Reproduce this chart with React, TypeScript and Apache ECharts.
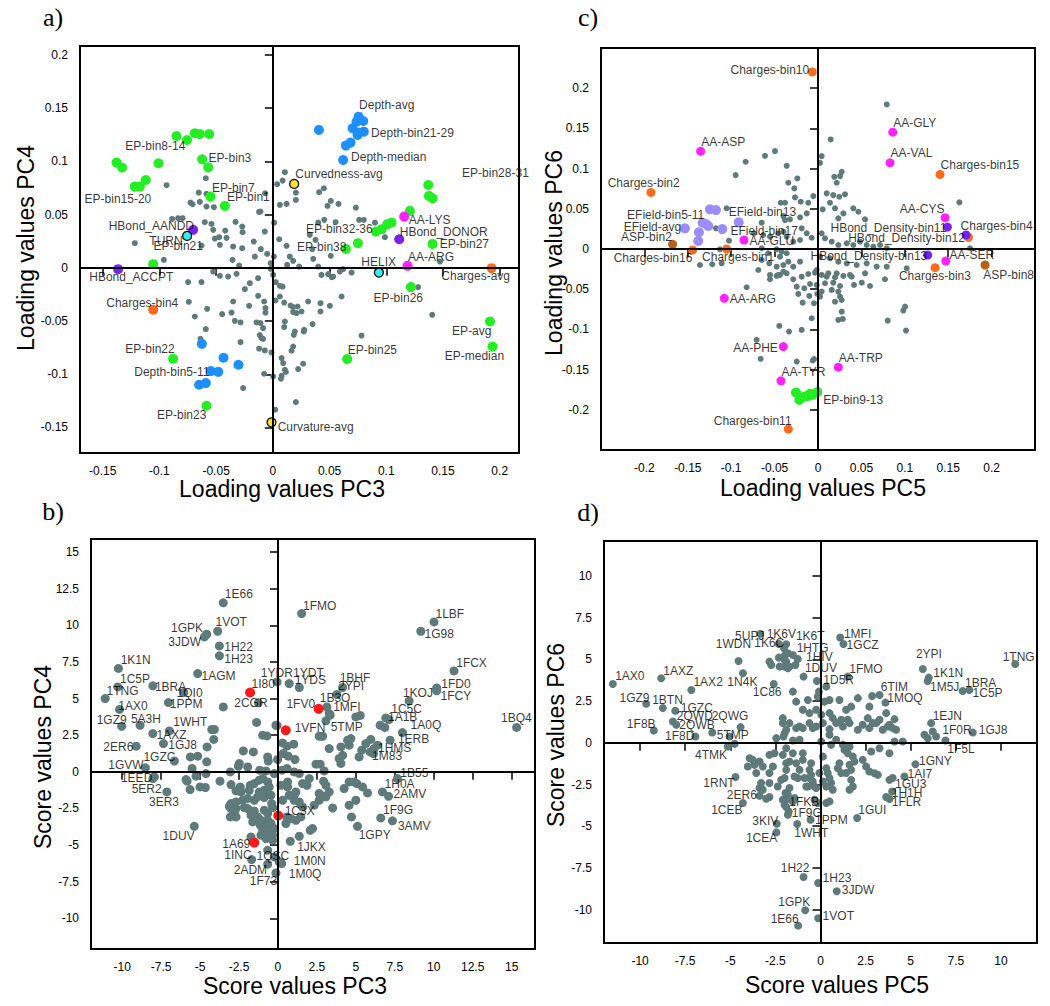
import React, { useEffect, useRef } from 'react';
import * as echarts from 'echarts';

// ---------- Panel a (Loading PC3 vs PC4) ----------
const aGrey: number[][] = [
[-0.0937,0.0777],[-0.0591,0.0842],[-0.0653,0.0707],[-0.0585,0.0695],[-0.0726,0.0613],[-0.0708,0.0598],[-0.0644,0.062],[-0.0585,0.0576],[-0.052,0.057],[-0.0121,0.0526],[-0.0888,0.046],[-0.0835,0.0467],[-0.0796,0.0467],[-0.06,0.0429],[-0.0541,0.0413],[-0.0526,0.0357],[-0.042,0.035],[-0.0329,0.0432],[-0.027,0.0388],[-0.0267,0.0335],[-0.0473,0.0288],[-0.0511,0.0275],[-0.0408,0.0282],[-0.035,0.02],[-0.027,0.0185],[-0.0467,0.0216],[-0.0168,0.0247],[-0.1217,0.0232],[-0.0961,0.0075],[-0.0629,0.0209],[-0.0355,0.0075],[-0.0297,0.0022],[-0.0159,0.0106],[-0.0526,-0.0035],[-0.0467,-0.0075],[-0.0394,-0.0082],[-0.032,-0.0056],
[0.0106,0.0899],[0.0038,0.0786],[0.0086,0.082],[0.0203,0.0707],[0.0203,0.0638],[0.0408,0.0711],[0.045,0.0748],[0.0511,0.0629],[0.0579,0.0601],[0.0482,0.0582],[-0.0068,0.0701],[-0.0109,0.0529],[0.0012,0.0425],[0.0062,0.0592],[0.0121,0.0601],[0.0732,0.0566],[0.04,0.0425],[0.0453,0.0451],[0.0553,0.0429],[0.0761,0.0451],[0.0802,0.0451],[0.09,0.0425],[0.0988,0.0288],[-0.0071,0.0341],[0.0056,0.0269],[0.0121,0.0207],[0.0326,0.031],[0.0376,0.0263],[-0.0106,0.0176],[-0.005,0.0131],[0.0009,0.0106],[0.015,0.0106],[0.0179,0.0066],[0.0347,0.0176],[0.0356,0.0085],[0.0511,0.0113],[-0.0018,0.0044],[-0.002,-0.0009],[0.0003,-0.0066],[0.0126,0.0028],[0.0232,0.0012],[0.04,0.0012],[0.062,-0.0012],[0.1473,0.0059],[0.0488,-0.0059],[0.0518,-0.0087],
[-0.0747,-0.0134],[-0.0629,-0.0134],[-0.0741,-0.0319],[-0.0579,-0.0385],[-0.0688,-0.0457],[-0.0447,-0.0435],[-0.0364,-0.042],[-0.035,-0.0316],[-0.0247,-0.02],[-0.0203,-0.0144],[-0.013,-0.0097],[-0.0209,-0.0357],[-0.013,-0.0263],[-0.0077,-0.0316],[-0.0065,-0.0378],[-0.0065,-0.042],[-0.0335,-0.0498],[-0.0285,-0.0513],[-0.0144,-0.0513],[-0.0109,-0.0519],[-0.0086,-0.0566],[-0.0591,-0.0576],[-0.0638,-0.0667],[-0.0285,-0.0698],[-0.0115,-0.0632],[-0.01,-0.066],[-0.0086,-0.0667],[-0.0121,-0.076],[-0.0071,-0.0776],[-0.0012,-0.0795],[-0.0077,-0.0995],[-0.0262,-0.113],[0.0003,-0.102],[0.002,-0.1333],[0.0026,-0.0134],[0.0062,-0.0169],[0.0086,-0.0176],[0.0062,-0.0269],[0.01,-0.0326],[0.0156,-0.0354],[0.0179,-0.0369],[0.0218,-0.0363],[0.0253,-0.041],[0.0024,-0.0307],[0.0106,-0.0504],[0.01,-0.0557],[0.0179,-0.0416],[0.0209,-0.0425],[0.0179,-0.0739],[0.0165,-0.0779],[0.0077,-0.0848],[0.0091,-0.0895],[0.0106,-0.0958],[0.0115,-0.0979],[0.0077,-0.1014],[0.0071,-0.1042],[0.0223,-0.0951],[0.0267,-0.0901],[0.0194,-0.0598],[0.0185,-0.0629],[0.0273,-0.0598],[0.0276,-0.0582],[0.035,-0.0529],[0.0311,-0.0316],[0.042,-0.0332],[0.042,-0.041],[0.0503,-0.0357],[0.0532,-0.0082],[0.0591,-0.0035],[0.0694,-0.0044],[0.0429,-0.0066],[0.0606,-0.0269],[0.0782,-0.0636],[0.1281,-0.0181],[0.1405,-0.0441],[0.0203,-0.1261]
];
const aGreen: number[][] = [[-0.1378,0.0989],[-0.1329,0.0942],[-0.1217,0.0764],[-0.1173,0.0764],[-0.112,0.0826],[-0.1008,0.0983],[-0.0849,0.1239],[-0.0756,0.1202],[-0.0688,0.1265],[-0.0644,0.1258],[-0.0561,0.1258],[-0.0623,0.102],[-0.057,0.0945],[-0.055,0.067],[-0.0423,0.0582],[-0.1055,0.0035],[0.137,0.0779],[0.1376,0.0676],[0.1408,0.0654],[0.1208,0.0535],[0.1046,0.0425],[0.1008,0.041],[0.0958,0.0363],[0.0908,0.0341],[0.1408,0.0225],[0.0644,0.0178],[0.075,0.0232],[0.1217,-0.0181],[0.1914,-0.0504],[0.1937,-0.0739],[0.0655,-0.0857],[-0.0879,-0.0854],[-0.0585,-0.1296]];
const aBlue: number[][] = [[0.0406,0.1296],[0.0756,0.1421],[0.0797,0.138],[0.0738,0.1374],[0.0703,0.1312],[0.0758,0.1271],[0.0802,0.128],[0.0747,0.1249],[0.0685,0.1177],[0.0644,0.1149],[0.062,0.1014],[-0.0626,-0.0714],[-0.0435,-0.0845],[-0.0303,-0.0911],[-0.0547,-0.097],[-0.0482,-0.0977],[-0.065,-0.1099],[-0.0591,-0.1083]];
const aPurple: number[][] = [[-0.0703,0.0357],[-0.1364,-0.0012],[0.1114,0.0269]];
const aCyan: number[][] = [[-0.0756,0.03],[0.0935,-0.0044]];
const aMagenta: number[][] = [[0.1158,0.0482],[0.1188,0.0019]];
const aOrange: number[][] = [[0.1928,-0.0003],[-0.1055,-0.0394]];
const aYellow: number[][] = [[0.0188,0.0789],[-0.0012,-0.1452]];
const aLabels: [number, number, string][] = [
[-0.1305,0.1148,'EP-bin8-14'],[-0.0571,0.103,'EP-bin3'],[-0.1664,0.0648,'EP-bin15-20'],[-0.0541,0.0754,'EP-bin7'],[-0.0408,0.0669,'EP-bin1'],[-0.1452,0.0397,'HBond_AANDD'],[-0.1093,0.0256,'TURN'],[-0.1056,0.0209,'EP-bin21'],[-0.1623,-0.0089,'HBond_ACCPT'],[0.0756,0.1528,'Depth-avg'],[0.0862,0.127,'Depth-bin21-29'],[0.0685,0.1039,'Depth-median'],[0.0194,0.088,'Curvedness-avg'],[0.1664,0.0889,'EP-bin28-31'],[0.1193,0.0451,'AA-LYS'],[0.0288,0.0363,'EP-bin32-36'],[0.1114,0.0335,'HBond_DONOR'],[0.1466,0.0225,'EP-bin27'],[0.0209,0.0194,'EP-bin38'],[0.1188,0.0106,'AA-ARG'],[0.0776,0.0056,'HELIX'],[0.1481,-0.0075,'Charges-avg'],[-0.1473,-0.0326,'Charges-bin4'],[0.0884,-0.0285,'EP-bin26'],[0.1576,-0.0598,'EP-avg'],[-0.1305,-0.0763,'EP-bin22'],[0.0655,-0.077,'EP-bin25'],[0.1511,-0.0826,'EP-median'],[-0.1226,-0.0977,'Depth-bin5-11'],[-0.1026,-0.1387,'EP-bin23'],[0.0038,-0.15,'Curvature-avg']
];
const aTicks = [-0.15,-0.1,-0.05,0,0.05,0.1,0.15,0.2];

// ---------- Panel b (Score PC3 vs PC4) ----------
const bGrey: number[][] = [
[-3.51,11.54],[-3.87,9.6],[-4.57,9.4],[-4.72,9.21],[-3.76,8.6],[-3.76,7.92],[-10.24,7.06],[-5.15,6.71],[-0.06,6.14],[-10.28,5.8],[-8.03,5.87],[-11.09,5.0],[-6.04,5.42],[-10.17,4.26],[-7.03,4.73],[-3.51,4.43],[-1.26,4.71],[-10.03,3.11],[-8.85,3.18],[-4.08,2.89],[-1.37,3.37],[-0.13,3.18],[-0.71,2.45],[-8.03,2.61],[-6.97,2.79],[-7.35,1.93],[-9.1,1.75],[-6.65,0.74],[-8.51,0.27],[-7.93,-0.35],[-8.03,-0.46],[-7.13,-1.37],[-5.37,-3.72],[-1.69,-5.99],[-0.24,-5.81],[0.24,-6.26],[-0.66,-6.31],[-0.13,-6.91],[0.79,-4.74],[1.37,-4.4],[5.11,-3.72],[6.6,-3.15],[7.35,-3.35],[7.1,-1.67],[6.71,-1.37],[7.67,-0.46],[7.2,2.16],[7.99,2.68],[5.64,1.93],[5.92,1.36],[6.39,1.82],[6.17,1.59],[6.56,3.18],[6.86,3.03],[15.32,3.03],
[1.52,10.81],[10.02,10.24],[9.17,9.6],[11.3,6.89],[10.19,5.73],[10.19,5.53],[8.42,4.84],[6.92,3.68],[7.13,3.57],[0.72,6.03],[1.37,5.76],[3.78,5.28],[4.15,5.76],[3.14,4.43],[3.29,3.98],[3.35,3.87],[5.0,3.75],[5.28,3.85],[3.08,3.48],[2.87,2.43],[-0.06,3.16],[4.68,2.27],[5.96,2.21],
[-4.25,2.89],[-4.12,2.21],[-4.55,1.7],[-5.62,1.02],[-5.15,1.07],[-4.57,0.68],[-5.51,0.23],[-4.62,-0.12],[-5.83,-0.64],[-5.26,-0.3],[-5.64,-1.21],[-5.0,-1.03],[-4.66,-1.07],[-3.72,-0.64],[-3.06,-0.01],[-2.48,0.57],[-2.54,0.38],[-2.22,1.43],[-1.58,1.36],[-0.98,2.5],[-0.66,1.02],[-0.62,0.74],[-0.02,0.84],[0.3,1.97],[0.58,1.75],[1.01,1.89],[0.34,1.25],[0.66,1.07],[1.09,0.84],[-1.17,0.11],[-0.77,0.06],[-0.24,-0.12],[0.26,0.11],[0.58,0.23],[1.04,-0.01],[1.37,-0.12],[2.01,-0.46],[1.86,-0.92],[1.58,-0.8],[0.62,-0.69],[1.15,-1.37],[1.04,-1.6],[-2.42,-1.03],[-1.78,-0.92],[-1.52,-0.8],[-1.84,-1.26],[-2.37,-1.37],[-2.69,-1.3],[-3.01,-0.87],[-1.2,-0.57],[-0.98,-0.46],[-0.66,-0.69],[-0.56,-1.03],[-0.88,-1.26],[-1.2,-1.37],[-1.3,-1.71],[-0.88,-1.76],[-0.45,-1.6],[-1.94,-1.82],[-1.52,-1.94],[-2.26,-1.94],[-2.69,-2.06],[-3.01,-2.17],[-3.12,-2.35],[-2.69,-2.51],[-2.16,-2.44],[-2.8,-2.85],[-2.69,-3.08],[-1.94,-2.51],[-1.52,-2.67],[-1.73,-2.96],[-1.3,-3.08],[-0.88,-2.62],[-0.66,-2.85],[-0.34,-2.44],[-0.4,-2.17],[-1.09,-3.31],[-0.66,-3.31],[-1.13,-3.65],[-0.77,-3.76],[-0.45,-3.53],[-0.24,-3.87],[-0.98,-3.99],[-0.66,-4.21],[-0.34,-4.33],[-1.09,-4.33],[-0.77,-4.56],[-0.34,-4.67],[0.58,-3.08],[0.51,-3.53],[0.83,-3.19],[1.15,-3.31],[1.47,-3.08],[1.58,-2.4],[1.37,-2.06],[1.04,-1.94],[2.33,-2.28],[2.65,-1.94],[2.93,-1.67],[2.07,-3.99],[2.22,-3.87],[2.65,-1.48],[3.08,-1.71],[3.29,-1.37],[3.51,-2.47],[3.08,-0.92],[2.93,-0.64],[2.44,0.52],[2.71,0.52],[2.97,0.06],[3.29,1.59],[2.65,2.43],[3.93,0.91],[4.04,0.57],[4.15,1.13],[4.47,2.16],[4.57,1.82],[4.04,1.7],[5.21,1.02],[5.38,1.48],[6.13,1.25],[4.25,-1.14],[4.57,-0.69],[4.89,-0.69],[5.06,-0.8],[5.43,-1.03],[5.75,-1.44],[5.0,-1.94],[4.57,-2.28],[4.72,-3.08],[0.08,-6.15],[-0.66,-5.36],[-1.73,-4.45],[-1.62,-3.42],[-5.9,-0.53],[-3.06,-3.08],[-3.01,-2.51],[0.72,-1.6],[0.3,-1.94],[0.62,-1.03],[0.19,-0.92],[-1.94,0.33]
];
const bRed: number[][] = [[-1.79,5.42],[2.61,4.3],[0.5,2.84],[0.02,-2.98],[-1.52,-4.83]];
const bLabels: [number, number, string][] = [
[-3.44,12.13,'1E66'],[-4.04,10.24,'1VOT'],[-6.9,9.79,'1GPK'],[-7.07,8.87,'3JDW'],[-3.48,8.53,'1H22'],[-3.48,7.69,'1H23'],[-10.13,7.62,'1K1N'],[-4.94,6.53,'1AGM'],[-1.13,6.78,'1YDR'],[-10.17,6.37,'1C5P'],[-7.93,5.8,'1BRA'],[-1.73,6.03,'1I80'],[-11.03,5.53,'1TNG'],[-6.54,5.35,'1QI0'],[-6.97,4.62,'1PPM'],[-2.84,4.73,'2CGR'],[-10.28,4.5,'1AX0'],[-11.67,3.57,'1GZ9'],[-9.47,3.59,'5A3H'],[-6.75,3.41,'1WHT'],[-7.82,2.5,'1AXZ'],[1.58,11.33,'1FMO'],[10.08,10.77,'1LBF'],[9.38,9.4,'1G98'],[11.41,7.44,'1FCX'],[0.94,6.76,'1YDT'],[1.04,6.26,'1YDS'],[3.93,6.41,'1BHF'],[3.83,5.85,'2YPI'],[10.45,6.03,'1FD0'],[7.99,5.35,'1KOJ'],[10.4,5.18,'1FCY'],[2.65,5.01,'1B3O'],[0.51,4.62,'1FV0'],[3.51,4.43,'1MFI'],[7.24,4.28,'1C5C'],[7.03,3.71,'1A1B'],[8.48,3.23,'1A0Q'],[14.29,3.68,'1BQ4'],[1.04,2.96,'1VFN'],[3.35,3.03,'5TMP'],[-7.07,1.86,'1GJ8'],[-11.24,1.7,'2ER6'],[7.67,2.21,'1ERB'],[6.39,1.63,'1HMS'],[-8.67,0.98,'1GZC'],[6.01,1.09,'1M83'],[-10.92,0.45,'1GVW'],[7.82,-0.05,'1B55'],[-10.11,-0.39,'1EED'],[6.81,-0.8,'1H0A'],[-9.42,-1.19,'5ER2'],[7.39,-1.53,'2AMV'],[-8.31,-2.06,'3ER3'],[0.4,-2.67,'1C3X'],[6.71,-2.58,'1F9G'],[7.67,-3.7,'3AMV'],[5.15,-4.33,'1GPY'],[-7.44,-4.4,'1DUV'],[-3.61,-4.9,'1A69'],[1.2,-5.13,'1JKX'],[-3.48,-5.7,'1INC'],[-1.41,-5.77,'1QSC'],[0.98,-6.11,'1M0N'],[-2.87,-6.72,'2ADM'],[0.66,-7.01,'1M0Q'],[-1.84,-7.47,'1F73']
];
const bTicks = [-10,-7.5,-5,-2.5,0,2.5,5,7.5,10,12.5,15];

// ---------- Panel c (Loading PC5 vs PC6) ----------
const cGrey: number[][] = [
[-0.0496,0.1217],[-0.0611,0.1159],[-0.0834,0.1085],[-0.0949,0.0919],[-0.0361,0.1035],[-0.0342,0.0824],[-0.043,0.0575],[-0.1053,0.0506],[-0.038,0.036],[-0.0649,0.0327],[-0.1176,0.0257],[-0.1026,0.0103],[-0.113,-0.0004],[-0.136,-0.0199],[-0.1218,-0.019],[-0.111,-0.0178],[-0.0649,0.0009],[-0.0573,-0.0053],[-0.0476,-0.0004],[-0.0418,-0.0034],[-0.0738,0.0195],[-0.0631,0.0174],[-0.0553,0.0153],[-0.0457,0.0195],[-0.0399,0.0215],[-0.0361,0.0153],[-0.0649,-0.0137],[-0.0561,-0.0178],[-0.0476,-0.022],[-0.0399,-0.0199],[-0.0342,-0.0158],[-0.0438,-0.0096],[-0.0361,-0.0053],[-0.0688,-0.0261],[-0.0553,-0.0323],[-0.0457,-0.0323],
[0.0792,0.1798],[0.0146,0.1363],[0.0042,0.1155],[0.0023,0.1072],[-0.0238,0.0878],[-0.0273,0.0754],[0.0273,0.096],[0.0254,0.0907],[0.0188,0.0898],[0.0215,0.0824],[0.0311,0.068],[0.0245,0.065],[0.0176,0.0671],[0.01,0.0692],[-0.0054,0.0658],[-0.0112,0.0575],[-0.0199,0.0588],[-0.0265,0.0642],[-0.038,0.0575],[0.0054,0.0493],[0.0138,0.0575],[0.0196,0.0506],[0.0407,0.0506],[0.0465,0.0463],[0.0542,0.0369],[0.0292,0.0443],[0.0234,0.0381],[0.1629,0.058],[-0.013,0.0443],[-0.0207,0.0394],[-0.0323,0.0369],[-0.0399,0.041],[-0.0188,0.0257],[-0.013,0.0195],[-0.0073,0.014],[-0.0207,0.0112],[-0.0285,0.0091],[0.0042,0.0195],[0.0081,0.0133],[0.0158,0.0091],[0.0234,0.005],[0.0331,0.0071],[0.0407,0.005],[0.0484,0.0091],[0.0561,0.005],[0.0637,0.0029],[0.0715,0.005],[0.0792,0.0009],[0.1752,0.0009],[0.0023,-0.0096],[0.0138,-0.0116],[0.0234,-0.0158],[0.0331,-0.0178],[0.0446,-0.0199],[0.0561,-0.0178],[0.0676,-0.022],[0.0792,-0.022],[0.1022,-0.024],[0.0542,-0.0302],[0.0388,-0.0344],[0.0215,-0.0302],[0.01,-0.0344],[-0.0015,-0.0261],[-0.0207,-0.0158],[-0.0285,-0.022],[-0.0361,-0.0302],
[-0.0822,-0.0476],[-0.0553,-0.0376],[-0.0476,-0.0335],[-0.0438,-0.0323],[-0.0399,-0.0282],[-0.0285,-0.0376],[-0.0188,-0.0344],[-0.0112,-0.0311],[-0.0035,-0.0294],[0.0042,-0.0323],[0.0119,-0.0302],[0.0196,-0.0352],[0.0292,-0.0335],[0.0369,-0.0323],[-0.0245,-0.0468],[-0.0158,-0.0488],[-0.0092,-0.0435],[-0.0015,-0.0447],[0.0081,-0.0426],[0.0176,-0.0419],[0.0254,-0.046],[0.0415,-0.0447],[0.0504,-0.0419],[0.0599,-0.046],[0.0772,-0.0376],[-0.0227,-0.0559],[-0.01,-0.0584],[-0.0008,-0.0559],[0.0042,-0.053],[0.0158,-0.0509],[0.0234,-0.053],[0.0254,-0.0593],[0.0273,-0.0634],[0.0196,-0.0655],[0.0023,-0.0593],[-0.0177,-0.0667],[-0.0046,-0.0675],[0.0273,-0.0779],[0.0234,-0.0882],[0.0285,-0.087],[-0.0073,-0.0861],[0.1003,-0.0717],[0.0983,-0.0766],[0.0803,-0.0891],[0.1014,-0.1015],[-0.0446,-0.0957],[-0.0334,-0.1027],[-0.0188,-0.1006],[-0.0707,-0.113],[-0.0661,-0.1366],[-0.0245,-0.14],[-0.0061,-0.1387],[-0.0046,-0.137]
];
const cMagenta: number[][] = [[-0.1352,0.1217],[-0.0853,0.0112],[0.0861,0.1453],[0.083,0.1072],[0.1464,0.0389],[0.1472,-0.0149],[-0.108,-0.0613],[-0.04,-0.1213],[0.0234,-0.147],[-0.0427,-0.164]];
const cOrange: number[][] = [[-0.1925,0.0704],[-0.1444,-0.0012],[-0.1053,0.0],[-0.0066,0.2203],[0.1406,0.0928],[0.1733,0.0145],[0.1349,-0.0232],[-0.0342,-0.224]];
const cLavender: number[][] = [[-0.1245,0.0493],[-0.1176,0.0484],[-0.1329,0.0327],[-0.1264,0.0286],[-0.1291,0.0311],[-0.1533,0.0257],[-0.1103,0.0248],[-0.1372,0.0207],[-0.138,0.0099],[-0.0914,0.0332]];
const cPurple: number[][] = [[0.1491,0.0273],[0.1706,0.0174],[0.1264,-0.0075]];
const cBrown: number[][] = [[-0.1675,0.0058],[0.1925,-0.0199]];
const cGreen: number[][] = [[-0.0254,-0.1785],[-0.0215,-0.1876],[-0.0207,-0.1847],[-0.015,-0.1835],[-0.0112,-0.1826],[-0.0061,-0.1814],[-0.0008,-0.178],[-0.0092,-0.1801]];
const cLabels: [number, number, string][] = [
[-0.1014,0.2224,'Charges-bin10'],[-0.1352,0.1333,'AA-ASP'],[-0.2429,0.0824,'Charges-bin2'],[-0.2205,0.0422,'EField-bin5-11'],[-0.1034,0.0463,'EField-bin13'],[-0.2244,0.0277,'EField-avg'],[-0.1014,0.0224,'EField-bin17'],[-0.2274,0.0145,'ASP-bin2'],[-0.0795,0.0103,'AA-GLU'],[-0.236,-0.0116,'Charges-bin16'],[-0.1341,-0.0096,'Charges-bin1'],[0.0861,0.1569,'AA-GLY'],[0.083,0.1189,'AA-VAL'],[0.1406,0.1043,'Charges-bin15'],[0.0937,0.0497,'AA-CYS'],[0.1637,0.0289,'Charges-bin4'],[0.0138,0.0265,'HBond_Density-bin11'],[0.0342,0.0133,'HBond_Density-bin12'],[-0.0092,-0.0087,'HBond_Density-bin13'],[0.151,-0.0075,'AA-SER'],[0.0926,-0.0332,'Charges-bin3'],[0.1899,-0.0323,'ASP-bin8'],[-0.1022,-0.0621,'AA-ARG'],[-0.0983,-0.1234,'AA-PHE'],[0.0234,-0.1358,'AA-TRP'],[-0.0427,-0.1524,'AA-TYR'],[0.0054,-0.1876,'EP-bin9-13'],[-0.1207,-0.2137,'Charges-bin11']
];
const cTicks = [-0.2,-0.15,-0.1,-0.05,0,0.05,0.1,0.15,0.2];

// ---------- Panel d (Score PC5 vs PC6) ----------
const dGrey: number[][] = [
[-11.51,3.53],[-8.83,3.87],[-7.16,3.17],[-9.66,2.34],[-8.74,2.08],[-8.05,1.92],[-8.18,1.28],[-7.99,1.08],[-4.43,0.94],[-9.24,0.74],[-6.94,0.38],[-6.0,0.62],[-3.34,6.53],[-4.54,4.91],[-4.3,4.17],[-2.59,3.53],[-2.31,5.93],[-1.9,5.91],[-2.03,5.67],[-2.83,4.87],[-2.73,4.67],[-2.31,5.11],[-1.99,5.23],[-1.9,4.87],[-2.27,4.57],[-1.99,4.57],[-1.81,4.47],[-1.26,5.03],[-1.53,5.27],[-1.81,5.37],[-1.99,4.97],[-1.72,4.57],[-1.39,4.67],[-0.94,3.97],[-0.2,3.71],[0.32,3.37],[-0.09,3.07],[1.09,6.31],[1.27,5.93],[1.51,3.97],[5.67,4.43],[6.0,3.91],[5.94,3.71],[7.88,3.11],[8.25,3.17],[10.79,4.73],[3.27,2.87],[2.86,2.81],[3.6,2.41],[6.13,1.18],[8.44,0.62],[6.93,0.14],[6.41,0.38],[5.94,0.28],[5.76,0.48],[5.26,-1.28],[4.65,-2.02],[4.0,-2.11],[3.82,-2.22],[3.97,-2.92],[3.64,-3.25],[3.82,-3.37],[2.03,-4.51],[-0.55,-4.61],[-1.29,-4.87],[-1.81,-4.31],[-1.76,-4.11],[-1.9,-3.85],[-1.99,-3.71],[-1.44,-3.31],[-1.53,-3.51],[-1.9,-3.41],[-2.09,-3.41],[-1.94,-3.01],[-1.81,-3.11],[-0.15,-3.61],[-2.42,-4.85],[-2.45,-5.37],[-4.3,-3.61],[-3.38,-3.17],[-3.2,-2.81],[-3.01,-3.35],[-2.83,-3.25],[-3.38,-2.71],[-4.71,-2.05],[-5.14,-0.22],[-4.76,-0.06],[-0.94,-8.04],[-0.13,-8.4],[0.9,-8.9],[-0.85,-10.04],[-0.13,-10.52],[-1.24,-10.96],
[-2.45,0.28],[-2.09,1.18],[-1.99,0.58],[-1.53,0.14],[-1.16,0.18],[-1.9,-0.32],[-1.35,0.88],[-0.98,0.88],[-0.61,1.18],[-0.24,0.98],[0.13,1.18],[0.5,0.82],[0.87,1.18],[1.24,0.98],[1.61,1.18],[2.07,0.78],[2.34,1.08],[2.71,0.88],[3.09,1.18],[3.45,0.78],[3.82,1.08],[4.19,0.78],[4.56,0.08],[4.1,0.08],[0.04,0.08],[0.13,-0.82],[0.5,0.48],[0.59,-0.12],[0.87,0.18],[1.24,-0.12],[1.33,-0.42],[1.61,-0.22],[1.51,-0.62],[1.79,-0.82],[1.88,-1.12],[2.34,-1.02],[2.81,-0.52],[3.27,-0.32],[3.82,-0.62],[2.53,-1.42],[2.71,-1.72],[2.99,-1.82],[3.18,-1.92],[1.61,-1.32],[1.7,-1.62],[1.42,-1.81],[1.7,-2.22],[1.79,-2.62],[1.61,-2.81],[0.32,-1.52],[0.4,-1.81],[0.5,-2.11],[0.59,-2.41],[0.32,-2.62],[0.13,-2.32],[-0.06,-1.81],[-0.52,-1.22],[-0.61,-1.62],[-0.52,-1.92],[-0.43,-2.32],[-0.33,-2.62],[-0.7,-2.62],[-0.61,-2.11],[-0.98,-0.62],[-0.98,-1.02],[-1.35,-1.22],[-1.16,-1.62],[-1.44,-2.02],[-1.26,-2.11],[-0.89,-2.11],[-0.79,-2.62],[-2.09,-0.72],[-1.9,-1.22],[-1.72,-1.12],[-1.53,-0.62],[-1.9,-1.62],[-1.99,-2.11],[-2.18,-2.22],[-2.37,-2.62],[-1.72,-2.71],[-2.83,-0.72],[-2.55,-0.62],[-2.64,-1.42],[-2.83,-1.81],[-3.2,-1.42],[-3.38,-1.12],[-3.75,-1.02],[-3.93,-0.92],[-3.66,-1.32],[-3.56,-1.81],[-4.03,-1.42],[-2.83,-2.41],[-3.29,-2.41],[1.05,-1.22],[0.96,-1.52],[1.15,-1.81],[0.68,-2.81],[0.5,-3.51],[0.32,-3.61],[-0.33,-3.41],[-0.24,-2.71],[-1.53,3.07],[-1.35,2.47],[-0.7,2.57],[-0.15,2.77],[0.22,2.47],[0.5,2.57],[1.05,2.57],[1.42,1.98],[1.7,2.17],[2.07,2.68],[-0.98,1.98],[-0.61,1.78],[-0.24,1.98],[0.04,1.68],[0.5,1.78],[0.68,1.48],[1.15,1.38],[1.51,1.38],[-2.09,1.48],[-1.72,1.18],[-1.16,0.98],[-0.43,0.88],[2.62,1.48],[3.27,1.38],[3.64,1.78],[4.1,1.42],[3.73,0.98],[2.71,2.17],[2.9,1.18],[4.01,0.88],[6.22,0.68],[-2.05,0.38],[-1.9,0.78],[-5.04,0.38]
];
const dLabels: [number, number, string][] = [
[-4.76,6.43,'5UPJ'],[-3.01,6.51,'1K6V'],[-5.83,5.91,'1WDN'],[-3.7,5.97,'1K6C'],[-11.41,4.01,'1AX0'],[-8.74,4.33,'1AXZ'],[-7.07,3.67,'1AX2'],[-5.19,3.67,'1N4K'],[-3.78,3.04,'1C86'],[-11.17,2.68,'1GZ9'],[-9.36,2.57,'1BTN'],[-7.77,2.11,'1GZC'],[-7.99,1.62,'2QWD'],[-6.06,1.62,'2QWG'],[-7.85,1.08,'2QWB'],[-10.76,1.14,'1F8B'],[-8.64,0.42,'1F8D'],[-5.78,0.48,'5TMP'],[-1.39,6.41,'1K6T'],[-1.35,5.67,'1HTG'],[-0.83,5.13,'1HIV'],[-0.89,4.47,'1DUV'],[0.13,3.77,'1D5R'],[1.27,6.51,'1MFI'],[1.42,5.87,'1GCZ'],[1.57,4.43,'1FMO'],[5.26,5.33,'2YPI'],[10.07,5.17,'1TNG'],[6.22,4.21,'1K1N'],[3.31,3.37,'6TIM'],[7.98,3.61,'1BRA'],[6.04,3.37,'1M5J'],[8.4,3.01,'1C5P'],[3.67,2.68,'1MOQ'],[6.19,1.63,'1EJN'],[6.72,0.74,'1F0R'],[8.75,0.74,'1GJ8'],[-6.98,-0.72,'4TMK'],[7.0,-0.38,'1F5L'],[5.43,-1.06,'1GNY'],[4.8,-1.87,'1AI7'],[-6.52,-2.38,'1RNT'],[4.1,-2.46,'1GU3'],[3.92,-2.98,'1H1H'],[-5.22,-3.11,'2ER6'],[3.92,-3.55,'1FLR'],[-1.76,-3.57,'1FKB'],[-6.09,-4.01,'1CEB'],[2.07,-4.05,'1GUI'],[-1.62,-4.21,'1F9G'],[-3.81,-4.71,'3KIV'],[-0.33,-4.65,'1PPM'],[-1.48,-5.41,'1WHT'],[-4.16,-5.71,'1CEA'],[-2.23,-7.5,'1H22'],[0.09,-8.1,'1H23'],[1.15,-8.84,'3JDW'],[-2.37,-9.56,'1GPK'],[0.09,-10.4,'1VOT'],[-2.79,-10.54,'1E66']
];
const dTicks = [-10,-7.5,-5,-2.5,0,2.5,5,7.5,10];

const FONT = '"Liberation Sans", Arial, sans-serif';
const GREY = '#5e7a7a';

function pts(data: number[][], gi: number, color: string, size: number, border = false, z = 3): any {
  return {
    type: 'scatter', xAxisIndex: gi, yAxisIndex: gi, data, symbol: 'circle', symbolSize: size, silent: true, z,
    itemStyle: { color, opacity: 1, borderColor: border ? '#000' : color, borderWidth: border ? 1.2 : 0 },
  };
}
function labels(list: [number, number, string][], gi: number): any {
  return {
    type: 'scatter', xAxisIndex: gi, yAxisIndex: gi, silent: true, z: 6, symbolSize: 1,
    itemStyle: { color: 'rgba(0,0,0,0)' },
    data: list.map((l) => ({ value: [l[0], l[1]], name: l[2] })),
    label: { show: true, position: 'right', distance: 0, formatter: '{b}', fontSize: 12, fontFamily: FONT, color: '#000' },
    labelLayout: { hideOverlap: false },
  };
}
function zero(gi: number): any {
  return {
    type: 'scatter', xAxisIndex: gi, yAxisIndex: gi, data: [], z: 1, silent: true,
    markLine: { silent: true, symbol: ['none', 'none'], label: { show: false }, lineStyle: { color: '#000', width: 2, type: 'solid' }, data: [{ xAxis: 0 }, { yAxis: 0 }] },
  };
}
const fmt = (v: number) => String(Math.round(v * 10000) / 10000);
function axis(gi: number, min: number, max: number, ticks: number[]): any {
  return {
    type: 'value', gridIndex: gi, min, max, scale: true,
    axisLine: { show: false }, splitLine: { show: false },
    axisTick: { show: true, inside: false, length: 8, lineStyle: { color: '#000', width: 1.5 }, customValues: ticks },
    axisLabel: { customValues: ticks, margin: 12, fontSize: 12, fontFamily: FONT, color: '#000', formatter: fmt },
  };
}
function txt(text: string, x: number, y: number, font: string, rot = 0): any {
  return { type: 'text', x, y, rotation: rot, silent: true, style: { text, font, fill: '#000', align: 'center', verticalAlign: 'middle', textAlign: 'center', textVerticalAlign: 'middle' } };
}

export default function App() {
  const ref = useRef<HTMLDivElement>(null);
  useEffect(() => {
    if (!ref.current) return;
    const chart = echarts.init(ref.current, undefined, { renderer: 'svg' });
    const TF = '23px "Liberation Sans", Arial, sans-serif';
    const PF = '26px "Liberation Serif", "Times New Roman", serif';
    const gridStyle = { show: true, borderColor: '#000', borderWidth: 2, backgroundColor: 'transparent' };
    chart.setOption({
      animation: false,
      grid: [
        { left: 80, top: 46, width: 439, height: 407, ...gridStyle },
        { left: 91, top: 539, width: 444, height: 410, ...gridStyle },
        { left: 601, top: 48, width: 434, height: 402, ...gridStyle },
        { left: 604, top: 541, width: 433, height: 402, ...gridStyle },
      ],
      xAxis: [axis(0, -0.17, 0.217, aTicks), axis(1, -12, 16.5, bTicks), axis(2, -0.25, 0.25, cTicks), axis(3, -12, 12, dTicks)],
      yAxis: [axis(0, -0.174, 0.2085, aTicks), axis(1, -12.1, 15.9, bTicks), axis(2, -0.25, 0.25, cTicks), axis(3, -12, 12.1, dTicks)],
      graphic: [
        txt('a)', 53, 17, PF), txt('b)', 53, 511, PF), txt('c)', 588, 17, PF), txt('d)', 588, 512, PF),
        txt('Loading values PC3', 282, 489, TF), txt('Loading values PC4', 26, 248, TF, Math.PI / 2),
        txt('Score values PC3', 295, 986, TF), txt('Score values PC4', 43, 757, TF, Math.PI / 2),
        txt('Loading values PC5', 823, 488, TF), txt('Loading values PC6', 554, 253, TF, Math.PI / 2),
        txt('Score values PC5', 837, 985, TF), txt('Score values PC6', 556, 735, TF, Math.PI / 2),
      ],
      series: [
        zero(0), zero(1), zero(2), zero(3),
        pts(aGrey, 0, GREY, 6),
        pts(aGreen, 0, '#22ee22', 10), pts(aBlue, 0, '#1e8fff', 10), pts(aPurple, 0, '#7a22ee', 10),
        pts(aMagenta, 0, '#ff22ff', 10), pts(aOrange, 0, '#ff6a1a', 10),
        pts(aCyan, 0, '#33eeee', 9, true), pts(aYellow, 0, '#ffe033', 9, true),
        labels(aLabels, 0),
        pts(bGrey, 1, GREY, 9), pts(bRed, 1, '#ff1a1a', 10), labels(bLabels, 1),
        pts(cGrey, 2, GREY, 6), pts(cLavender, 2, '#9c8cff', 10), pts(cGreen, 2, '#22ee22', 10),
        pts(cOrange, 2, '#ff6a1a', 9), pts(cPurple, 2, '#7a22ee', 9), pts(cMagenta, 2, '#ff22ff', 9),
        pts(cBrown, 2, '#b8600f', 9), labels(cLabels, 2),
        pts(dGrey, 3, GREY, 8), labels(dLabels, 3),
      ],
    });
    return () => chart.dispose();
  }, []);
  return <div ref={ref} style={{ position: 'absolute', left: 0, top: 0, width: 1050, height: 1006, background: '#fff' }} />;
}
